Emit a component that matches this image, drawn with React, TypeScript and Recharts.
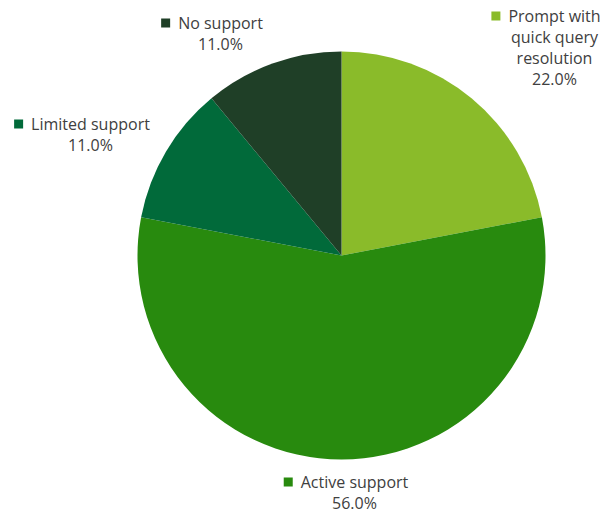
import React from "react";
import { Cell, Pie, PieChart } from "recharts";

const categories = ["Prompt with quick query resolution", "Active support", "Limited support", "No support"];
const shares = [22.0, 56.0, 11.0, 11.0];
const labelLines = [
  ["Prompt with", "quick query", "resolution"],
  ["Active support"],
  ["Limited support"],
  ["No support"],
];
const colors = ["#8abb2a", "#288a0e", "#016a3a", "#1f3f27"];

const data = categories.map((name, i) => ({ name, value: shares[i] }));

// text block anchor (centre x, first baseline y) relative to the pie centre
const LABEL_LAYOUT = [
  { dx: 213, dy: -234 },
  { dx: 13, dy: 232 },
  { dx: -251, dy: -126 },
  { dx: -121, dy: -227 },
];

const FONT = "16px 'Open Sans'";
const LINE_H = 21;

let ctx: CanvasRenderingContext2D | null = null;
const measure = (s: string): number => {
  if (ctx === null) {
    const c = document.createElement("canvas");
    ctx = c.getContext("2d");
  }
  if (ctx === null) return s.length * 8;
  ctx.font = FONT;
  return ctx.measureText(s).width;
};

const renderLabel = (props: any) => {
  const { cx, cy, index, value } = props;
  const layout = LABEL_LAYOUT[index];
  const x = cx + layout.dx;
  const y = cy + layout.dy;
  const lines = [...labelLines[index], `${Number(value).toFixed(1)}%`];
  const firstW = measure(lines[0]);
  return (
    <g key={`lbl-${index}`}>
      <rect x={x - firstW / 2 - 17} y={y - 10} width={9} height={9} fill={colors[index]} />
      {lines.map((t, i) => (
        <text
          key={i}
          x={x}
          y={y + i * LINE_H}
          textAnchor="middle"
          fill="#404040"
          style={{ fontFamily: "'Open Sans'", fontSize: 16 }}
        >
          {t}
        </text>
      ))}
    </g>
  );
};

export default function App() {
  return (
    <div style={{ position: "absolute", left: 0, top: 0, width: 601, height: 512, background: "#fff" }}>
      <PieChart width={601} height={512} margin={{ top: 0, right: 0, bottom: 0, left: 0 }}>
        <Pie
          data={data}
          dataKey="value"
          nameKey="name"
          cx={341.5}
          cy={255.5}
          outerRadius={204}
          startAngle={90}
          endAngle={-270}
          stroke="none"
          label={renderLabel}
          labelLine={false}
          isAnimationActive={false}
        >
          {data.map((d, i) => (
            <Cell key={d.name} fill={colors[i]} />
          ))}
        </Pie>
      </PieChart>
    </div>
  );
}
